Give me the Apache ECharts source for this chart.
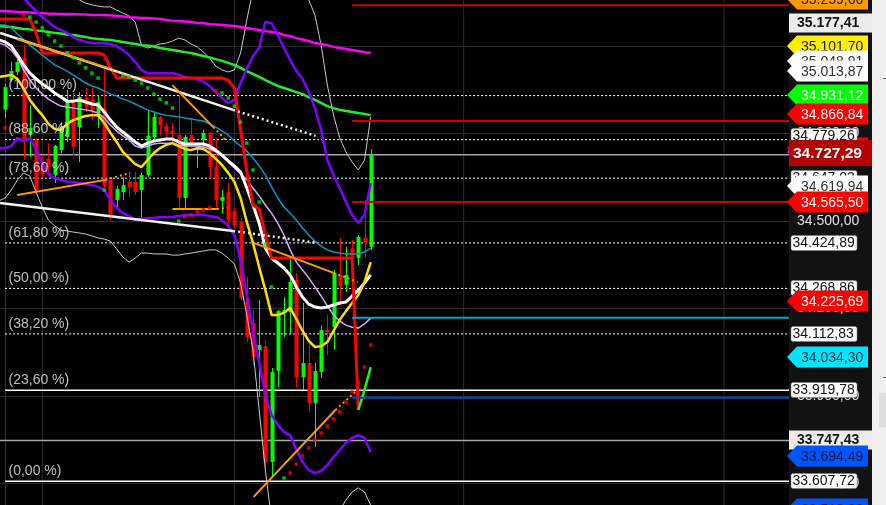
<!DOCTYPE html>
<html><head><meta charset="utf-8">
<script src="https://cdn.jsdelivr.net/npm/echarts@6/dist/echarts.min.js"></script>
<style>html,body{margin:0;padding:0;background:#121212;}#c{width:886px;height:505px;}</style>
</head><body><div id="c"></div>
<script>
const FONT = '"Liberation Sans", Arial, sans-serif';

// ---- candles (index 0..59) ----
const candleOpen  = [34881,34983,35011,35059,34795,34778,34682,34713,34658,34743,34788,34915,34822,34922,34915,34870,34887,34641,34572,34599,34634,34634,34606,34658,34788,34857,34826,34809,34795,34579,34795,34743,34778,34802,34685,34569,34599,34534,34497,34236,34150,34058,34071,33674,33986,34185,34188,34298,33965,34013,33876,33982,34126,34136,34315,34281,34407,34373,34442,34411];
const candleClose = [34959,35014,35045,34778,34819,34606,34661,34685,34757,34822,34915,34754,34925,34891,34881,34908,34623,34514,34610,34623,34617,34599,34658,34792,34857,34829,34805,34798,34579,34788,34767,34750,34802,34685,34572,34582,34503,34486,34236,34102,34034,34075,33674,33982,34191,34195,34291,33965,34013,33876,33986,34126,34119,34322,34277,34315,34373,34445,34425,34727.29];
const candleLow   = [34853,34977,35001,34709,34719,34596,34647,34665,34630,34733,34771,34726,34702,34874,34846,34819,34613,34503,34548,34572,34582,34589,34514,34651,34778,34795,34785,34771,34545,34545,34743,34682,34750,34647,34548,34527,34493,34476,34229,34085,34006,33897,33646,33619,33931,34102,34116,33931,33921,33845,33725,33962,34041,34058,34212,34257,34359,34349,34373,34401];
const candleHigh  = [34970,35045,35079,35103,34898,34785,34726,34767,34761,34839,34949,34939,34942,34956,34956,34932,35028,34647,34620,34651,34665,34668,34665,34881,34870,34860,34836,34836,34932,34795,34853,34750,34812,34805,34785,34606,34630,34545,34510,34308,34195,34229,34092,33996,34195,34239,34373,34322,34219,34082,34013,34143,34178,34332,34442,34411,34435,34452,34572,34747];

// ---- indicator lines (index -1..59) ----
const magentaLine = [35220,35220,35218,35217,35217,35215,35213,35213,35211,35211,35210,35210,35210,35208,35208,35206,35206,35206,35205,35203,35201,35199,35198,35196,35196,35194,35193,35189,35187,35186,35184,35182,35179,35179,35175,35174,35172,35170,35169,35165,35162,35158,35155,35151,35148,35145,35138,35134,35127,35122,35117,35110,35107,35103,35097,35093,35090,35086,35083,35079,35076];
const greenLine = [35169,35167,35165,35162,35158,35157,35153,35151,35148,35145,35143,35139,35138,35134,35131,35127,35124,35122,35121,35117,35114,35110,35107,35103,35102,35098,35093,35090,35086,35083,35079,35076,35071,35066,35061,35055,35049,35042,35035,35025,35014,35004,34994,34983,34973,34963,34956,34949,34942,34935,34925,34915,34905,34894,34887,34881,34877,34874,34870,34867,34863];
const redStep = [35193,35193,35193,35193,35193,35193,35145,35076,35076,35076,35076,35076,35076,35076,35076,35076,35076,35069,35025,34990,34990,34990,34990,34990,34990,34990,34990,34990,34990,34990,34990,34990,34990,34990,34990,34990,34990,34983,34956,34812,34668,34555,34541,34452,34373,34373,34373,34373,34373,34373,34373,34373,34373,34373,34373,34373,34373,34373,33852,null,null];
const turnIdx = [57,58,59];
const turnVals = [33852,33921,33999];
const purpleUpper = [35395,35361,35326,35292,35265,35241,35220,35199,35182,35165,35155,35145,35131,35121,35114,35110,35110,35110,35107,35100,35086,35069,35045,35018,35007,35007,35007,35007,35007,35001,34994,34990,34987,34977,34963,34942,34922,34905,34915,34973,35021,35066,35093,35182,35179,35138,35093,35052,35014,34987,34942,34887,34812,34709,34658,34613,34565,34521,34493,34521,34630];
const purpleLower = [34750,34750,34757,34785,34774,34785,34743,34699,34661,34647,34641,34634,34634,34630,34627,34623,34617,34606,34572,34545,34527,34517,34503,34507,34510,34510,34514,34514,34514,34517,34521,34521,34521,34521,34517,34514,34503,34483,34452,34366,34246,34126,34016,33903,33835,33801,33777,33766,33715,33674,33646,33636,33643,33663,33691,33715,33739,33756,33766,33756,33708];
const bandUpper = [35463,35446,35429,35412,35395,35378,35361,35343,35326,35309,35292,35278,35265,35258,35247,35241,35237,35234,35234,35223,35213,35203,35182,35103,35093,35100,35107,35110,35117,35127,35121,35107,35097,35079,35059,35031,35018,35011,35018,35076,35189,35292,35395,35463,35498,35498,35463,35412,35343,35292,35258,35206,35103,34966,34863,34785,34737,34702,34675,34709,34857];
const bandLower = [34569,34579,34606,34641,34665,34654,34599,34548,34503,34483,34469,34466,34462,34459,34455,34449,34442,34438,34431,34404,34377,34359,34373,34390,34390,34387,34387,34387,34383,34383,34387,34390,34394,34397,34401,34401,34390,34373,34353,34287,34178,34058,33852,33646,33475,33389,33321,33286,33269,33269,33286,33321,33372,33423,33475,33509,33543,33571,33585,33571,33526];
const cyanLine = [35172,35172,35162,35141,35121,35103,35086,35069,35052,35035,35025,35014,35001,34987,34973,34963,34956,34946,34935,34929,34918,34911,34901,34891,34881,34874,34867,34863,34860,34857,34853,34850,34846,34843,34833,34822,34809,34795,34774,34757,34740,34716,34689,34658,34617,34579,34548,34527,34503,34476,34452,34431,34414,34401,34394,34390,34387,34387,34387,34394,34407];
const whiteMA = [35121,35114,35100,35069,35035,35007,34987,34970,34956,34939,34925,34911,34911,34915,34908,34901,34898,34874,34846,34822,34805,34788,34771,34757,34767,34774,34778,34781,34781,34771,34764,34764,34764,34764,34757,34743,34726,34706,34689,34668,34613,34555,34493,34407,34373,34356,34339,34315,34274,34239,34215,34205,34202,34205,34212,34219,34222,34243,34263,34287,34315];
const lavenderLine = [35110,35103,35086,35059,35018,34983,34956,34935,34918,34905,34894,34891,34887,34884,34881,34877,34870,34853,34829,34809,34792,34778,34757,34750,34757,34764,34767,34767,34767,34761,34757,34757,34757,34754,34747,34737,34723,34702,34682,34661,34641,34613,34586,34555,34527,34493,34452,34401,34359,34332,34305,34274,34243,34209,34178,34157,34143,34136,34133,34147,34167];
const yellowLine = [34994,34997,35001,34987,34953,34915,34887,34863,34833,34815,34812,34833,34846,34853,34860,34863,34863,34836,34802,34771,34737,34716,34695,34685,34709,34733,34750,34761,34767,34757,34747,34743,34750,34747,34733,34713,34692,34665,34634,34579,34497,34425,34342,34263,34178,34178,34185,34202,34164,34123,34089,34068,34071,34085,34123,34161,34191,34219,34246,34291,34359];

// ---- parabolic SAR dots (index 0..59) ----
const sarValues = [34819,null,null,35206,35199,35182,35162,35138,35117,35100,35076,35059,35042,35025,35007,34990,34606,null,null,34997,34994,34983,34973,34956,34935,34918,34905,34887,34500,34514,34521,34531,34538,34545,34946,34939,34922,34894,34839,34767,34675,34565,34421,34274,null,33619,33636,33667,33694,33722,33749,33773,33797,33821,33845,33879,33914,33948,33999,34075];
const sarSide = "r--rggggggggggggg--ggggggggggrrrrrrggggggggg-grrrrrrrrrrrrrr";

// ---- trend lines: [idxA, valA, idxB, valB, idxDottedEnd, valDottedEnd] ----
const trendOrange = [
  [1.94,35124,16.5,35025,20.2,34994],
  [27.0,34966,33.6,34822,35.9,34771],
  [1.94,34589,16.2,34641,20.2,34665],
  [27.0,34541,34.2,34541,35.9,34545],
  [40.1,34425,53.0,34322,56.9,34291],
  [40.1,33554,53.3,33852,56.5,33914]
];
const trendWhite = [
  [-0.8,35145,36.8,34881,50.1,34792],
  [-0.8,34562,36.8,34466,50.4,34425]
];

// ---- Fibonacci levels ----
const fibPct  = ['100,00','88,60','78,60','61,80','50,00','38,20','23,60','0,00'];
const fibVals = [34930.00,34779.26,34647.03,34424.89,34268.86,34112.83,33919.78,33607.72];
const fibSolid = [false,false,false,false,false,false,true,true];

// ---- other price levels ----
const priceLines = [34727.29, 33747.43];
const levelStartIdx = 56;
const levelRed = [35240, 34843, 34565.5];
const levelCyan = [34168];
const levelBlue = [33894];
const vGridIdx = [6, 37, 74, 116];

// ---- right axis tags (drawn in this order) ----
const tagValues = [35259.66,35177.41,35101.70,35050.00,35013.87,34931.12,34866.84,34751.00,34791.00,34737.00,34727.29,34647.03,34619.94,34565.50,34424.89,34268.86,34225.69,34112.83,34034.30,33919.78,33747.43,33694.49,33607.72,33512.00];
const tagTexts  = ['35.259,66','35.177,41','35.101,70','35.048,91','35.013,87','34.931,12','34.866,84','34.751,00','34.779,26','','34.727,29','34.647,03','34.619,94','34.565,50','34.424,89','34.268,86','34.225,69','34.112,83','34.034,30','33.919,78','33.747,43','33.694,49','33.607,72','33.512,00'];
const tagStyles = [
  ['arrow','#ff9900','#222'],['plain'],['arrow','#ffee00','#222'],['arrow','#ffffff','#333'],['arrow','#ffffff','#333'],
  ['arrow','#00ff00','#ffffff'],['arrow','#ff0000','#ffffff'],['arrow','#ff0000','#ffffff'],['box'],['arrow','#ff00ff','#fff'],
  ['current'],['box'],['arrow','#ffffff','#333'],['arrow','#ff0000','#ffffff'],['box'],['box'],['arrow','#ff0000','#ffffff'],
  ['box'],['arrow','#00e5ff','#123040'],['box'],['plain'],['arrow','#0055ff','#0a1a40'],['box'],['arrow','#0055ff','#0a1a40']
];

const X_MIN = -0.823, X_MAX = 126.5;

function fmt(v) {
  const parts = v.toFixed(2).split('.');
  return parts[0].replace(/\B(?=(\d{3})+(?!\d))/g, '.') + ',' + parts[1];
}
const lineFrom = arr => arr.map((v, k) => [k - 1, v]);

const series = [];
const base = { type: 'line', symbol: 'none', silent: true, animation: false };

vGridIdx.forEach(k => series.push(Object.assign({}, base, {
  z: 1, data: [[k, 33300], [k, 35400]], lineStyle: { color: '#2a2a2a', width: 1 }
})));

fibVals.forEach((v, i) => series.push(Object.assign({}, base, {
  z: 2, data: [[0, v], [X_MAX, v]],
  lineStyle: { color: '#ffffff', width: fibSolid[i] ? 1.5 : 1, type: fibSolid[i] ? 'solid' : [2, 2] }
})));
priceLines.forEach(v => series.push(Object.assign({}, base, {
  z: 2, data: [[-1, v], [X_MAX, v]], lineStyle: { color: '#a6a6a6', width: 1.5 }
})));

// candles
series.push({
  type: 'custom', z: 3, silent: true, animation: false,
  data: candleOpen.map((o, i) => [i, o, candleClose[i], candleLow[i], candleHigh[i]]),
  encode: { x: 0, y: [1, 2, 3, 4] },
  renderItem: function (params, api) {
    const i = api.value(0), o = api.value(1), c = api.value(2), l = api.value(3), h = api.value(4);
    const po = api.coord([i, o]), pc = api.coord([i, c]), pl = api.coord([i, l]), ph = api.coord([i, h]);
    const color = c >= o ? '#00ff00' : '#ff0000';
    const x = Math.round(po[0]);
    const top = Math.min(po[1], pc[1]);
    return { type: 'group', children: [
      { type: 'rect', shape: { x: x, y: ph[1], width: 1, height: Math.max(1, pl[1] - ph[1]) }, style: { fill: color } },
      { type: 'rect', shape: { x: x - 1.5, y: top, width: 4, height: Math.max(1.5, Math.abs(po[1] - pc[1])) }, style: { fill: color } }
    ]};
  }
});

function addLine(arr, color, width, z) {
  series.push(Object.assign({}, base, { z: z || 4, data: lineFrom(arr), lineStyle: { color: color, width: width } }));
}
addLine(bandUpper, '#c8c8c8', 1);
addLine(bandLower, '#c8c8c8', 1);
addLine(magentaLine, '#ff00ff', 2.5);
addLine(greenLine, '#22ee22', 2.5);
addLine(cyanLine, '#0a94c6', 1.5);
addLine(purpleUpper, '#8000ff', 2.5);
addLine(purpleLower, '#8000ff', 2.5);
addLine(lavenderLine, '#d9a6ff', 1.5);
addLine(whiteMA, '#ffffff', 3);
addLine(yellowLine, '#ffdd00', 2.5);
series.push(Object.assign({}, base, { z: 5, data: lineFrom(redStep), connectNulls: false, lineStyle: { color: '#ff0000', width: 3 } }));
series.push(Object.assign({}, base, { z: 5, data: turnIdx.map((k, j) => [k, turnVals[j]]), lineStyle: { color: '#22ee22', width: 2.5 } }));

function addTrend(t, color, width) {
  series.push(Object.assign({}, base, { z: 6, data: [[t[0], t[1]], [t[2], t[3]]], lineStyle: { color: color, width: width } }));
  series.push(Object.assign({}, base, { z: 6, data: [[t[2], t[3]], [t[4], t[5]]], lineStyle: { color: color, width: width, type: [2, 3] } }));
}
trendWhite.forEach(t => addTrend(t, '#f2f2f2', 2.5));
trendOrange.forEach(t => addTrend(t, '#ff9900', 2));

// SAR dots
['g', 'r'].forEach(side => series.push({
  type: 'scatter', z: 7, silent: true, animation: false, symbol: 'rect', symbolSize: 3.5,
  itemStyle: { color: side === 'g' ? '#00e600' : '#ff0000' },
  data: sarValues.map((v, i) => (v !== null && sarSide[i] === side) ? [i, v] : null).filter(d => d)
}));

// right-side price levels
const addLevels = (arr, color) => arr.forEach(v => series.push(Object.assign({}, base, {
  z: 6, data: [[levelStartIdx, v], [X_MAX, v]], lineStyle: { color: color, width: 2 }
})));
addLevels(levelRed, '#cc0000');
addLevels(levelCyan, '#00a6cf');
addLevels(levelBlue, '#0046c8');

// fib labels
series.push({
  type: 'scatter', z: 8, silent: true, animation: false, symbolSize: 1,
  itemStyle: { color: 'rgba(0,0,0,0)' },
  data: fibVals.map(v => [-0.5, v]),
  label: { show: true, position: 'right', distance: 6, offset: [0, -10],
    formatter: p => '(' + fibPct[p.dataIndex] + ' %)', color: '#e8e8e8', fontSize: 14, fontFamily: FONT }
});

// right axis tags
series.push({
  type: 'custom', z: 20, silent: true, animation: false, clip: false,
  data: tagValues.map(v => [0, v]),
  encode: { x: 0, y: 1 },
  renderItem: function (params, api) {
    const st = tagStyles[params.dataIndex];
    const text = tagTexts[params.dataIndex];
    const y = Math.round(api.coord([0, api.value(1)])[1]);
    const x0 = params.coordSys.x + params.coordSys.width;
    if (st[0] === 'arrow') {
      return { type: 'group', children: [
        { type: 'polygon', shape: { points: [[x0 - 2, y], [x0 + 8, y - 10.5], [x0 + 79, y - 10.5], [x0 + 79, y + 10.5], [x0 + 8, y + 10.5]] }, style: { fill: st[1] } },
        { type: 'text', style: { text: text, x: x0 + 12, y: y + 1, fill: st[2], font: '14px ' + FONT, align: 'left', verticalAlign: 'middle' } }
      ]};
    }
    if (st[0] === 'box') {
      return { type: 'group', children: [
        { type: 'rect', shape: { x: x0 + 2, y: y - 7.5, width: 66, height: 15, r: 2 }, style: { fill: '#ffffff', stroke: '#777', lineWidth: 0.5 } },
        { type: 'text', style: { text: text, x: x0 + 3.5, y: y + 0.5, fill: '#111', font: '14px ' + FONT, align: 'left', verticalAlign: 'middle' } }
      ]};
    }
    if (st[0] === 'plain') {
      return { type: 'group', children: [
        { type: 'rect', shape: { x: x0, y: y - 9.5, width: 83, height: 19 }, style: { fill: '#ececec' } },
        { type: 'text', style: { text: text, x: x0 + 8, y: y + 0.5, fill: '#111', font: 'bold 14px ' + FONT, align: 'left', verticalAlign: 'middle' } }
      ]};
    }
    return { type: 'group', children: [
      { type: 'rect', shape: { x: x0, y: y - 15, width: 83, height: 26 }, style: { fill: '#b30000' } },
      { type: 'text', style: { text: text, x: x0 + 4, y: y - 1.5, fill: '#ffffff', font: 'bold 15.5px ' + FONT, align: 'left', verticalAlign: 'middle' } }
    ]};
  }
});

const chart = echarts.init(document.getElementById('c'), null, { renderer: 'canvas' });
chart.setOption({
  animation: false,
  backgroundColor: '#121212',
  grid: { left: 0, right: 97, top: -41.5, bottom: -66, show: true, backgroundColor: '#000000', borderWidth: 0, containLabel: false, outerBoundsMode: 'none' },
  xAxis: { type: 'value', min: X_MIN, max: X_MAX, show: false },
  yAxis: {
    type: 'value', position: 'right', min: 33300, max: 35400, interval: 300,
    axisLine: { show: true, lineStyle: { color: '#333333' } },
    axisTick: { show: false },
    splitLine: { show: true, lineStyle: { color: '#2a2a2a', width: 1 } },
    axisLabel: { color: '#e0e0e0', fontSize: 14, fontFamily: FONT, margin: 8, formatter: fmt }
  },
  graphic: [
    { type: 'rect', z: 100, shape: { x: 872, y: 0, width: 14, height: 505 }, style: { fill: '#f0f0f0' } },
    { type: 'rect', z: 101, shape: { x: 879, y: 393, width: 7, height: 34 }, style: { fill: '#dedede' } },
    { type: 'rect', z: 101, shape: { x: 883, y: 78, width: 3, height: 1 }, style: { fill: '#666' } },
    { type: 'rect', z: 101, shape: { x: 883, y: 377, width: 3, height: 1 }, style: { fill: '#666' } }
  ],
  series: series
});
</script>
</body></html>
